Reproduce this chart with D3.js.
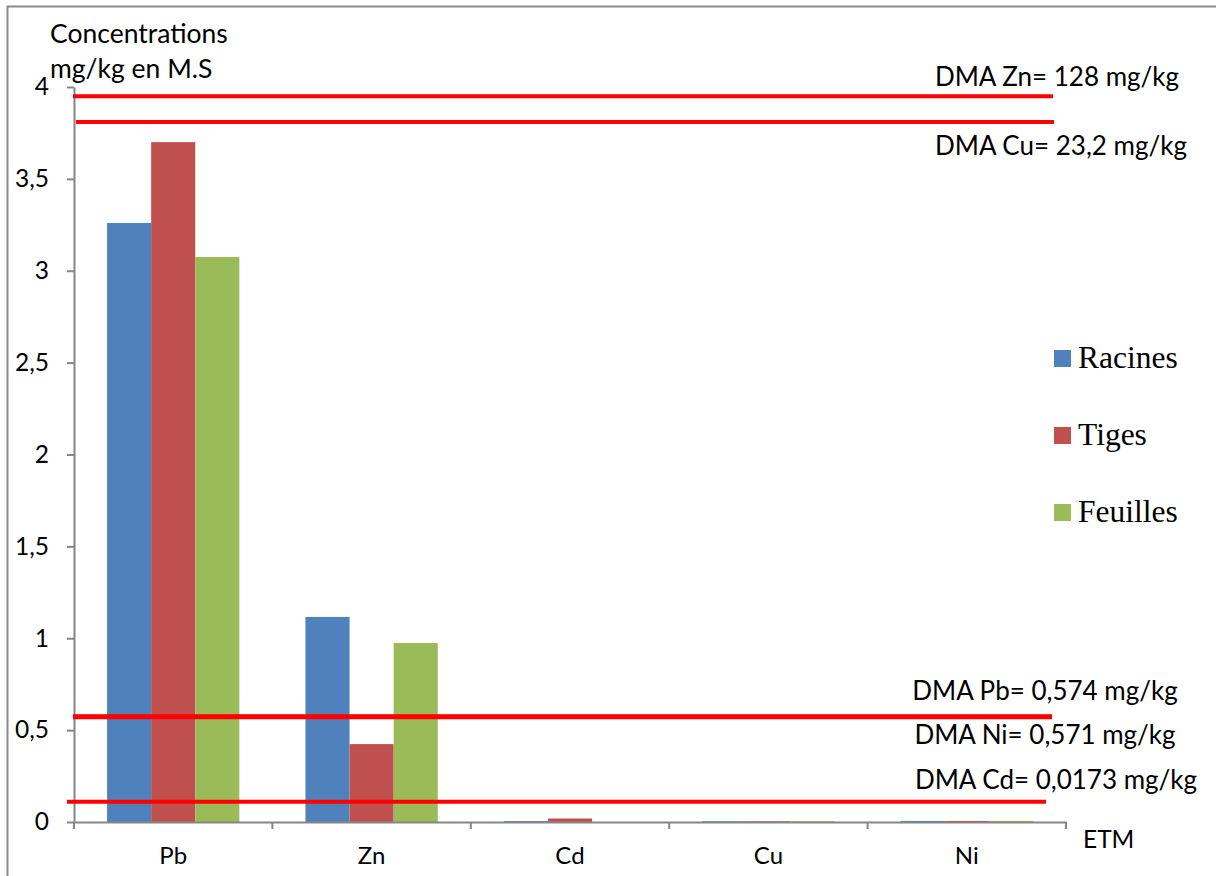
<!DOCTYPE html>
<html>
<head>
<meta charset="utf-8">
<script src="https://cdn.jsdelivr.net/npm/d3@7"></script>
<style>
  html, body { margin: 0; padding: 0; background: #fff; }
  svg { display: block; }
  .sans { font-family: Lato, "Open Sans", sans-serif; fill: #000; }
  .serif { font-family: "Liberation Serif", "DejaVu Serif", serif; fill: #000; }
</style>
</head>
<body>
<svg id="chart" width="1216" height="876"></svg>
<script>
// Trace elements (ETM) measured in each plant organ, mg/kg of dry matter
const elements = ["Pb", "Zn", "Cd", "Cu", "Ni"];
const organs = ["Racines", "Tiges", "Feuilles"];
const racines  = [3.26, 1.116, 0.005, 0.004, 0.006];
const tiges    = [3.70, 0.424, 0.019, 0.004, 0.006];
const feuilles = [3.075, 0.974, 0.0, 0.004, 0.006];
const organColors = ["#4F81BD", "#C0504D", "#9BBB59"];

const yTicks = [0, 0.5, 1, 1.5, 2, 2.5, 3, 3.5, 4];

// Maximum admissible doses (DMA); values above the axis range are drawn at a capped level
const dmaLabels = ["DMA Zn= 128 mg/kg", "DMA Cu= 23,2 mg/kg", "DMA Pb= 0,574 mg/kg", "DMA Ni= 0,571 mg/kg", "DMA Cd= 0,0173 mg/kg"];
const dmaLevels = [3.95, 3.81, 0.574, 0.571, 0.11];

const seriesValues = [racines, tiges, feuilles];

const svg = d3.select("#chart");
const plot = { left: 74, right: 1066, top: 87, bottom: 822 };
const axisColor = "#868686";

// frame
svg.append("path")
  .attr("d", "M7.5,876 V6.5 H1216")
  .attr("fill", "none")
  .attr("stroke", "#8a8a8a")
  .attr("stroke-width", 2);

const x = d3.scaleBand().domain(elements).range([plot.left, plot.right]).padding(0);
const xSub = d3.scaleBand().domain(organs).range([0, x.bandwidth()]).paddingInner(0).paddingOuter(0.75);
const y = d3.scaleLinear().domain([0, 4]).range([plot.bottom, plot.top]);

// bars
organs.forEach((organ, si) => {
  svg.append("g")
    .selectAll("rect")
    .data(elements.map((e, i) => ({ e, v: seriesValues[si][i] })))
    .join("rect")
    .attr("x", d => x(d.e) + xSub(organ))
    .attr("width", xSub.bandwidth())
    .attr("y", d => y(d.v))
    .attr("height", d => y(0) - y(d.v))
    .attr("fill", organColors[si]);
});

// y axis
const yAxis = svg.append("g")
  .attr("transform", `translate(${plot.left},0)`)
  .call(d3.axisLeft(y).tickValues(yTicks).tickSize(7).tickSizeOuter(0).tickPadding(18)
    .tickFormat(d => String(d).replace(".", ",")));
yAxis.select(".domain").attr("stroke", axisColor).attr("stroke-width", 2);
yAxis.selectAll(".tick line").attr("stroke", axisColor).attr("stroke-width", 2);
yAxis.selectAll(".tick text").attr("class", "sans").style("font-size", "24.5px");

// x axis: labels centred under each group, ticks at group boundaries
const xAxis = svg.append("g")
  .attr("transform", `translate(0,${plot.bottom})`)
  .call(d3.axisBottom(x).tickSize(0).tickSizeOuter(0).tickPadding(25));
xAxis.select(".domain").attr("stroke", axisColor).attr("stroke-width", 2);
xAxis.selectAll(".tick text").attr("class", "sans").style("font-size", "24px");

const edges = elements.map(e => x(e)).concat([x(elements[elements.length - 1]) + x.bandwidth()]);
svg.append("g")
  .selectAll("line")
  .data(edges)
  .join("line")
  .attr("x1", d => d).attr("x2", d => d)
  .attr("y1", plot.bottom).attr("y2", plot.bottom + 7)
  .attr("stroke", axisColor).attr("stroke-width", 2);

// axis titles
const yTitle = svg.append("text").attr("class", "sans").style("font-size", "26.5px");
yTitle.append("tspan").attr("x", 50).attr("y", 43).text("Concentrations");
yTitle.append("tspan").attr("x", 50).attr("y", 78).text("mg/kg en M.S");

svg.append("text").attr("class", "sans").style("font-size", "24.5px")
  .attr("x", 1083).attr("y", 848).text("ETM");

// DMA reference lines
const lineSpans = [[-1, -13], [2, -12], [-1, -14], [-1, -14], [-7, -20]];
const lineWidths = [4, 4, 4.5, 4.5, 4];
svg.append("g")
  .selectAll("line")
  .data(dmaLevels)
  .join("line")
  .attr("x1", (d, i) => plot.left + lineSpans[i][0])
  .attr("x2", (d, i) => plot.right + lineSpans[i][1])
  .attr("y1", d => y(d)).attr("y2", d => y(d))
  .attr("stroke", "#FF0000")
  .attr("stroke-width", (d, i) => lineWidths[i]);

// DMA labels, each just above or below its line
const labelOffsets = [-10, 33, -17, 27, -13];
const labelCentres = [1057, 1061, 1045, 1045, 1056];
svg.append("g")
  .selectAll("text")
  .data(dmaLabels)
  .join("text")
  .attr("class", "sans")
  .style("font-size", "26px")
  .attr("text-anchor", "middle")
  .attr("x", (d, i) => labelCentres[i])
  .attr("y", (d, i) => y(dmaLevels[i]) + labelOffsets[i])
  .text(d => d);

// legend
const legend = svg.append("g").attr("transform", "translate(1054,350)");
organs.forEach((organ, i) => {
  const g = legend.append("g").attr("transform", `translate(0,${i * 77})`);
  g.append("rect").attr("width", 17).attr("height", 17).attr("fill", organColors[i]);
  g.append("text").attr("class", "serif").style("font-size", "31.5px")
    .attr("x", 24).attr("y", 18).text(organ);
});
</script>
</body>
</html>
